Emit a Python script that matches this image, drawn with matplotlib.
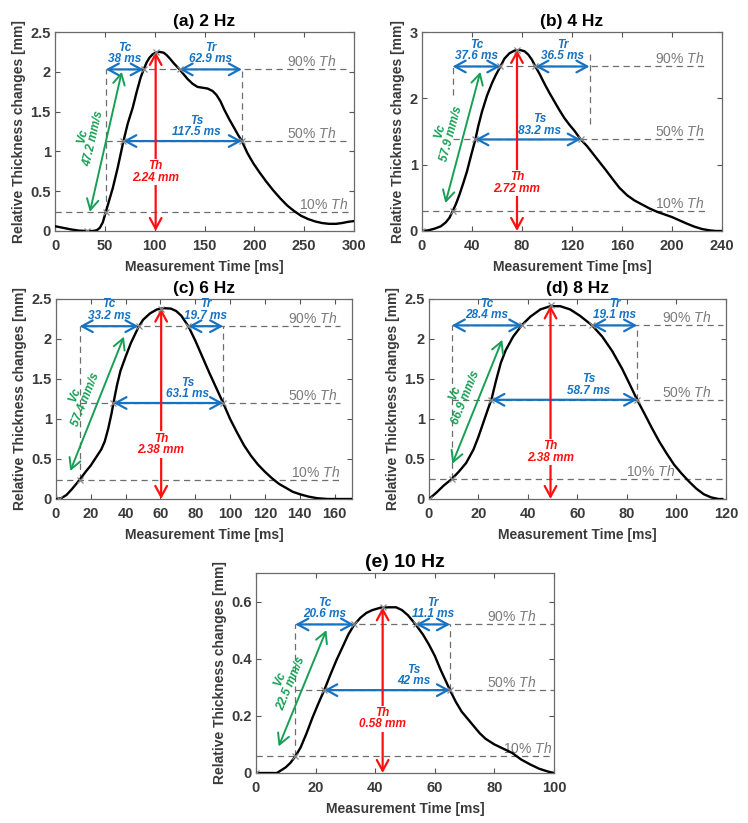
import numpy as np
import matplotlib
matplotlib.use('Agg')
import matplotlib.pyplot as plt
from matplotlib.ticker import FormatStrFormatter

plt.rcParams['font.family'] = ['Liberation Sans', 'DejaVu Sans']
plt.rcParams['mathtext.fontset'] = 'custom'
plt.rcParams['mathtext.rm'] = 'Liberation Sans'
plt.rcParams['mathtext.it'] = 'Liberation Sans:italic'

# ---- curves ----
t_a = [0, 8, 16, 24, 32, 38, 42, 45, 48, 51, 54, 58, 63, 68.5, 73, 78, 82, 86, 89, 92, 95, 98, 101, 105,
       109, 112, 115, 119, 122, 125, 129, 133, 138, 143, 148, 153, 158, 162, 166, 170, 175, 180, 184, 187.5,
       193, 199, 205, 212, 219, 226, 233, 240, 247, 254, 261, 268, 275, 282, 288, 294, 300]
y_a = [0.06, 0.04, 0.02, 0.005, 0.0, 0.0, 0.01, 0.04, 0.11, 0.24, 0.37, 0.54, 0.8, 1.12, 1.35, 1.55, 1.75,
       1.93, 2.03, 2.12, 2.18, 2.22, 2.24, 2.25, 2.24, 2.21, 2.17, 2.11, 2.07, 2.03, 1.97, 1.91, 1.85, 1.81,
       1.80, 1.79, 1.76, 1.71, 1.63, 1.52, 1.40, 1.29, 1.20, 1.13, 0.98, 0.85, 0.74, 0.62, 0.51, 0.41, 0.32,
       0.25, 0.19, 0.15, 0.12, 0.10, 0.09, 0.09, 0.10, 0.115, 0.125]

t_b = [0, 5, 10, 15, 19, 22, 24.5, 27, 30, 33, 36, 39, 42.7, 45, 48, 52, 56, 59, 62.7, 66, 70, 74, 78, 82,
       85, 88, 90.7, 94, 98, 102, 106, 110, 114, 118, 122, 127, 132, 137, 142, 147, 153, 158, 164, 170, 176,
       182, 188, 194, 200, 206, 212, 218, 224, 230, 235, 240]
y_b = [0, 0.01, 0.035, 0.07, 0.13, 0.2, 0.30, 0.4, 0.55, 0.72, 0.9, 1.12, 1.38, 1.58, 1.80, 2.04, 2.23,
       2.35, 2.48, 2.60, 2.68, 2.72, 2.73, 2.71, 2.66, 2.58, 2.48, 2.37, 2.22, 2.08, 1.95, 1.82, 1.70, 1.60,
       1.51, 1.38, 1.28, 1.16, 1.04, 0.92, 0.77, 0.65, 0.54, 0.46, 0.40, 0.34, 0.29, 0.25, 0.21, 0.16, 0.11,
       0.065, 0.03, 0.01, 0.0, 0]

t_c = [0, 3, 6, 9, 13.6, 17, 20, 23, 26, 28, 30, 32, 33, 35, 37, 40, 43, 47.4, 50, 54, 58, 62, 66, 69, 72,
       76, 80, 84, 88, 92, 96, 100, 104, 108, 112, 116, 120, 124, 128, 132, 136, 140, 145, 150, 156, 165, 170]
y_c = [0, 0.01, 0.05, 0.12, 0.24, 0.34, 0.42, 0.52, 0.62, 0.72, 0.88, 1.08, 1.2, 1.42, 1.6, 1.78, 1.95,
       2.15, 2.24, 2.32, 2.37, 2.385, 2.38, 2.35, 2.29, 2.16, 1.98, 1.78, 1.58, 1.39, 1.2, 1.0, 0.83, 0.67,
       0.54, 0.43, 0.34, 0.26, 0.19, 0.14, 0.09, 0.06, 0.03, 0.01, 0, 0, 0]

t_d = [0, 3, 6, 9.2, 12, 15, 18, 20, 22, 24, 25.2, 27, 29, 31, 34, 37.7, 41, 45, 49, 53, 57, 61, 65.9, 70,
       74, 78, 81, 84.1, 87, 90, 93, 96, 99, 102, 105, 108, 111, 114, 117, 118.5]
y_d = [0, 0.08, 0.17, 0.25, 0.34, 0.45, 0.62, 0.78, 0.96, 1.14, 1.24, 1.47, 1.70, 1.86, 2.03, 2.18, 2.28,
       2.37, 2.41, 2.41, 2.37, 2.29, 2.17, 2.03, 1.85, 1.63, 1.44, 1.24, 1.07, 0.89, 0.72, 0.57, 0.43, 0.32,
       0.22, 0.13, 0.06, 0.02, 0.0, 0]

t_e = [0, 7, 8.5, 10, 11.5, 13.2, 15, 17, 19, 21, 22.9, 25, 27, 29, 31, 32.9, 35, 37, 39, 41.9, 45, 47, 49,
       51, 53.7, 56, 58, 60, 62, 65.1, 67, 69, 71, 73, 75, 77, 80, 83, 86, 89, 92, 95, 98, 100]
y_e = [0, 0, 0.01, 0.02, 0.035, 0.058, 0.09, 0.14, 0.195, 0.245, 0.29, 0.345, 0.395, 0.44, 0.485, 0.518,
       0.543, 0.560, 0.570, 0.579, 0.58, 0.58, 0.57, 0.552, 0.518, 0.485, 0.45, 0.41, 0.36, 0.29, 0.25, 0.215,
       0.19, 0.165, 0.14, 0.12, 0.1, 0.085, 0.07, 0.047, 0.03, 0.015, 0.005, 0]

curves_t = [t_a, t_b, t_c, t_d, t_e]
curves_y = [y_a, y_b, y_c, y_d, y_e]

titles = ['(a) 2 Hz', '(b) 4 Hz', '(c) 6 Hz', '(d) 8 Hz', '(e) 10 Hz']
x_max = [300, 240, 170, 120, 100]
y_max = [2.5, 3, 2.5, 2.5, 0.7]
x_step = [50, 40, 20, 20, 20]
y_step = [0.5, 1, 0.5, 0.5, 0.2]

# ---- reported parameters ----
th_vals = ['2.24', '2.72', '2.38', '2.38', '0.58']
tc_vals = ['38', '37.6', '33.2', '28.4', '20.6']
tr_vals = ['62.9', '36.5', '19.7', '19.1', '11.1']
ts_vals = ['117.5', '83.2', '63.1', '58.7', '42']
vc_vals = ['47.2', '57.9', '57.4', '66.9', '22.5']

# threshold levels (10 %, 50 %, 90 %, peak)
lvl10 = [0.235, 0.30, 0.24, 0.25, 0.058]
lvl50 = [1.13, 1.38, 1.20, 1.24, 0.29]
lvl90 = [2.03, 2.48, 2.16, 2.17, 0.52]
peak = [2.25, 2.73, 2.38, 2.42, 0.58]

# crossing times
t_start = [32, 0, 2, 0, 0]
t10 = [51, 24.5, 13.6, 9.2, 13.2]
t50_up = [68.5, 42.7, 33, 25.2, 22.9]
t90_up = [89, 62.7, 47.4, 37.7, 32.9]
t_peak = [101, 76, 60.4, 49.1, 42.5]
t90_dn = [125, 90.7, 76, 65.9, 53.7]
t50_dn = [187.5, 127, 96, 84.1, 65.1]
tr_end = [187.5, 134, 96, 84.1, 65.1]

# vertical guide lines: (x, y_from, y_to)
vguide_1 = [(51, 0.235, 2.03), (25, 2.05, 2.48), (13.6, 0.24, 2.16), (9.2, 0.25, 2.17), (13.2, 0.058, 0.52)]
vguide_2 = [(187.5, 1.13, 2.03), (134, 1.62, 2.72), (96, 1.2, 2.16), (84.1, 1.24, 2.17), (65.1, 0.29, 0.52)]

# Vc arrow ends: (x0, y0, x1, y1)
vc_arrow = [(35, 0.24, 67, 2.0), (18.7, 0.42, 46.7, 2.4), (8.2, 0.35, 39, 2.03),
            (9.4, 0.44, 29.6, 1.99), (7.6, 0.093, 23.6, 0.5)]

# ---- layout ----
axes_px = [(55, 32, 354, 231), (422, 32, 722, 231), (56, 299, 352, 499),
           (429, 299, 726, 499), (256, 573, 554, 773)]
ts_label_x = [142, 94, 75.6, 64.6, 52.8]
th_label_y = [0.74, 0.72, 0.68, 0.59, 0.19]
txt_end = [(0.98, 0.94, 0.94), (0.94, 0.94, 0.94), (0.96, 0.95, 0.95), (0.83, 0.95, 0.95), (0.995, 0.94, 0.94)]
line_end = [0.985, 0.95, 0.96, 0.99, 1.0]

BLUE = '#1672C2'
GREEN = '#17A055'
RED = '#FF1010'
GRAY = '#7a7a7a'
DARK = '#3a3a3a'

W, H = 748, 823
fig = plt.figure(figsize=(W / 100, H / 100), dpi=100)


def arrow(ax, p0, p1, color, lw=1.6):
    ax.annotate('', xy=p1, xytext=p0,
                arrowprops=dict(arrowstyle='<->,head_length=0.55,head_width=0.3', color=color,
                                lw=lw, shrinkA=0, shrinkB=0, mutation_scale=14))


for i in range(5):
    l, tp, r, b = axes_px[i]
    ax = fig.add_axes([l / W, 1 - b / H, (r - l) / W, (b - tp) / H])
    xm, ym = x_max[i], y_max[i]
    ax.set_xlim(0, xm)
    ax.set_ylim(0, ym)
    ax.set_xticks(np.arange(0, xm + 0.01, x_step[i]))
    ax.set_yticks(np.arange(0, ym * 0.999 if i == 4 else ym + 0.01, y_step[i]))
    ax.yaxis.set_major_formatter(FormatStrFormatter('%g'))
    ax.tick_params(direction='in', top=True, right=True, length=3.5, width=0.8, color='#555555',
                   labelsize=10.5, labelcolor=DARK, pad=3)
    ax.tick_params(axis='x', pad=6)
    for lab in ax.get_xticklabels() + ax.get_yticklabels():
        lab.set_fontweight('bold')
    for s in ax.spines.values():
        s.set_color('#6a6a6a')
        s.set_linewidth(0.9)
    ax.set_xlabel('Measurement Time [ms]', fontsize=10, fontweight='bold', color=DARK, labelpad=5)
    ax.set_ylabel('Relative Thickness changes [mm]', fontsize=10, fontweight='bold', color=DARK, labelpad=3)
    ax.set_title(titles[i], fontsize=14 if i == 4 else 12.5, fontweight='bold', pad=4)

    # guide lines
    dash = dict(color='#6e6e6e', lw=0.9, ls=(0, (5, 3.5)), zorder=1)
    xe = line_end[i] * xm
    ax.plot([0, xe], [lvl10[i]] * 2, **dash)
    ax.plot([vguide_1[i][0], xe], [lvl50[i]] * 2, **dash)
    ax.plot([vguide_1[i][0], xe], [lvl90[i]] * 2, **dash)
    for v in (vguide_1[i], vguide_2[i]):
        ax.plot([v[0], v[0]], [v[1], v[2]], **dash)

    for k, (lv, pc) in enumerate(zip((lvl10[i], lvl50[i], lvl90[i]), ('10%', '50%', '90%'))):
        ax.text(txt_end[i][k] * xm, lv, pc + r' $\mathit{Th}$', ha='right', va='bottom',
                fontsize=10, color=GRAY)

    # curve and markers
    ax.plot(curves_t[i], curves_y[i], color='black', lw=1.7, zorder=3)
    mk_t = [t_start[i], t10[i], t50_up[i], t90_up[i], t_peak[i], t90_dn[i], t50_dn[i]]
    mk_y = [0, lvl10[i], lvl50[i], lvl90[i], peak[i], lvl90[i], lvl50[i]]
    ax.plot(mk_t, mk_y, 'x', color='#888888', ms=4, mew=0.9, zorder=4)

    lab_kw = dict(color=BLUE, fontsize=8.5, fontweight='bold', fontstyle='italic',
                  ha='center', va='bottom', linespacing=0.95, textcoords='offset points')
    # Tc
    arrow(ax, (t10[i], lvl90[i]), (t90_up[i], lvl90[i]), BLUE)
    ax.annotate('Tc\n%s ms' % tc_vals[i], xy=((t10[i] + t90_up[i]) / 2, lvl90[i]), xytext=(0, 3), **lab_kw)
    # Tr
    arrow(ax, (t90_dn[i], lvl90[i]), (tr_end[i], lvl90[i]), BLUE)
    ax.annotate('Tr\n%s ms' % tr_vals[i], xy=((t90_dn[i] + tr_end[i]) / 2, lvl90[i]), xytext=(0, 3), **lab_kw)
    # Ts
    arrow(ax, (t50_up[i], lvl50[i]), (t50_dn[i], lvl50[i]), BLUE)
    ax.annotate('Ts\n%s ms' % ts_vals[i], xy=(ts_label_x[i], lvl50[i]), xytext=(0, 2), **lab_kw)

    # Th
    arrow(ax, (t_peak[i], 0), (t_peak[i], peak[i]), RED)
    ax.text(t_peak[i], th_label_y[i], 'Th\n%s mm' % th_vals[i], color=RED, fontsize=8.5,
            fontweight='bold', fontstyle='italic', ha='center', va='center', linespacing=0.95,
            bbox=dict(facecolor='white', edgecolor='none', pad=1), zorder=5)

    # Vc
    x0, y0, x1, y1 = vc_arrow[i]
    arrow(ax, (x0, y0), (x1, y1), GREEN, lw=1.4)
    p0 = ax.transData.transform((x0, y0))
    p1 = ax.transData.transform((x1, y1))
    d = p1 - p0
    ang = np.degrees(np.arctan2(d[1], d[0]))
    u = d / np.hypot(*d)
    perp = np.array([-u[1], u[0]]) * 13
    ax.annotate('Vc\n%s mm/s' % vc_vals[i], xy=((x0 + x1) / 2, (y0 + y1) / 2), xytext=tuple(perp),
                textcoords='offset points', rotation=ang, rotation_mode='anchor',
                ha='center', va='center', color=GREEN, fontsize=8.5, fontweight='bold',
                fontstyle='italic', linespacing=0.95)

fig.savefig('out.png', dpi=100)
